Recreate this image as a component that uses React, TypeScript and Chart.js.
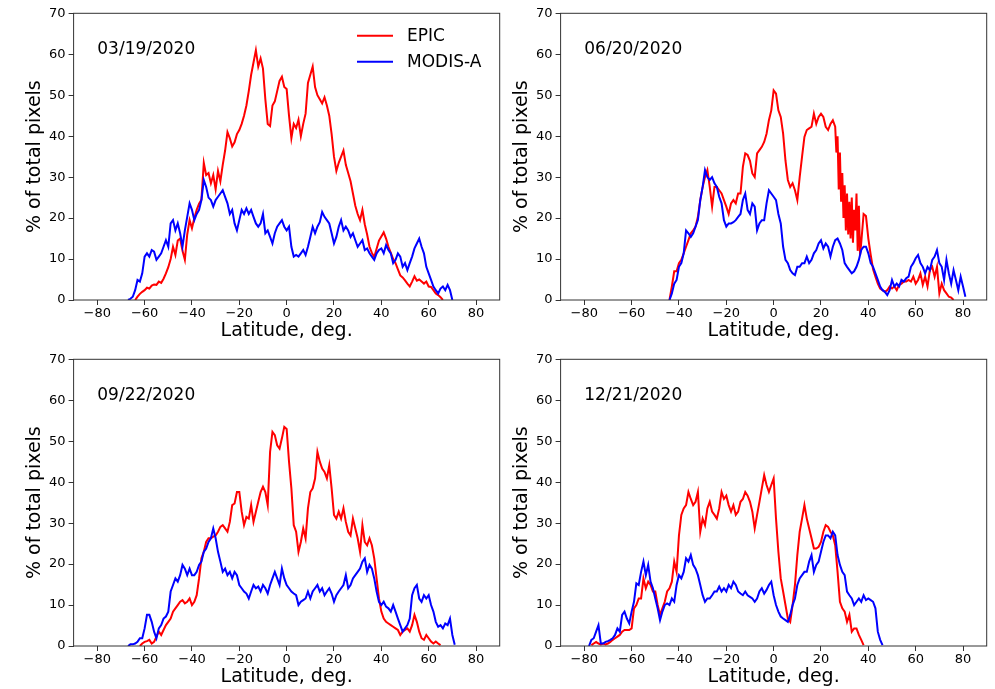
import React, { useEffect, useRef } from "react";
import { Chart, registerables } from "chart.js";

Chart.register(...registerables);

const X_TICKS = [-80, -60, -40, -20, 0, 20, 40, 60, 80];
const Y_TICKS = [0, 10, 20, 30, 40, 50, 60, 70];
const SERIES_NAMES = ["EPIC", "MODIS-A"];
const DATES = ["03/19/2020", "06/20/2020", "09/22/2020", "12/21/2020"];

// 03/19/2020
const MAR_EPIC_START = -64;
const MAR_EPIC = [0, 0.8, 1.5, 2, 2.4, 3, 2.8, 3.5, 3.8, 3.7, 4.5, 4.2, 5.2, 6.5, 8, 10, 13, 11, 14.5, 15, 12, 9.8, 16, 19.5, 17.5, 20, 22, 23.5, 24.5, 33.5, 30.5, 31, 28.5, 30.5, 27, 31.5, 29, 33, 36.5, 41, 39.5, 37.5, 38.5, 40.5, 41.5, 43, 45, 47.5, 51, 55, 58, 61, 57, 59, 56.5, 49, 43, 42.5, 47.5, 48.5, 51, 53.5, 54.5, 52, 51.5, 45, 39.5, 43, 42, 44, 40, 43, 45.5, 53, 55, 57, 52, 50, 49, 48, 49.5, 47.5, 45, 40.5, 35, 31.5, 33.5, 35, 36.5, 33, 31, 29, 26, 23, 21, 19.5, 22, 18.5, 16, 13, 11.5, 10.5, 12.5, 14.5, 15.5, 16.5, 15, 13, 11.5, 10, 9, 7.5, 6, 5.5, 4.8, 4, 3.3, 4.5, 5.8, 4.7, 5, 4.5, 4, 4.5, 3.3, 3.2, 2.4, 1.6, 1.2, 0.7, 0];
const MAR_MODIS_START = -67;
const MAR_MODIS = [0, 0.3, 0.8, 2.4, 4.9, 4.5, 6.5, 10.6, 11.4, 10.6, 12.2, 11.8, 9.8, 10.6, 11.4, 13, 14.6, 13, 18.7, 19.5, 17, 18.7, 16.3, 13, 17, 20.3, 23.6, 22, 19.5, 21, 22, 24.4, 29.3, 27.6, 25, 24.4, 22.8, 24.4, 25.2, 26, 26.8, 25.2, 23.6, 21, 22, 18.7, 17, 19.5, 22, 21, 22.4, 21, 22, 20.3, 18.7, 17.9, 18.7, 21, 16.3, 17, 15.4, 13.8, 16.3, 17.9, 18.7, 19.5, 17.9, 17, 17.9, 13, 10.6, 11, 10.6, 11.4, 12.2, 11, 13, 15.4, 17.9, 16.3, 17.9, 19, 21.5, 20.3, 19.5, 18.7, 16.3, 13.8, 15.4, 17.9, 19.5, 17, 17.9, 17, 15.4, 16.3, 14.6, 13, 13.8, 14.6, 12.2, 12.6, 11.4, 10.6, 9.8, 11.4, 12.2, 12.6, 11.4, 13.4, 12.2, 11.4, 9, 9.8, 11.4, 10.6, 8.1, 9, 7.3, 9, 10.6, 12.6, 13.8, 15, 13, 11.4, 8.1, 6.5, 4.9, 3.3, 2.4, 1.6, 2.8, 3.3, 2.4, 3.7, 2.4, 0];

// 06/20/2020
const JUN_EPIC_START = -44;
const JUN_EPIC = [0, 3.3, 7, 7, 9, 9.8, 11.4, 13, 14.6, 16.3, 17, 17.9, 20.3, 24.4, 27.6, 30, 31.7, 27.6, 22.8, 27.6, 27.6, 26.8, 26, 24.4, 22.8, 21, 23.6, 24.4, 23.6, 26, 26, 32.5, 35.8, 35.4, 34, 30.9, 30, 35.8, 36.6, 37.4, 38.6, 40.6, 43.9, 46.3, 51.2, 50.4, 46.3, 44.7, 40.6, 34, 29.3, 27.6, 28.5, 26.8, 24.4, 30, 35, 39.8, 41.5, 41.9, 42.3, 45.5, 43, 44.7, 45.5, 44.7, 42.3, 41.5, 43, 43.9, 42.3, 40, 36, 31, 28, 26, 24, 25, 22, 26, 23, 14, 21, 20.5, 15, 11, 7.5, 5.7, 4, 2.8, 2.4, 2, 2.4, 3.3, 2.8, 3.3, 2.4, 3.7, 4, 4.5, 4.5, 4.9, 4.5, 5.7, 4, 4.9, 6.5, 3.7, 5.7, 3.3, 7.3, 8.1, 5.7, 8.1, 1.6, 4, 2.4, 1.6, 0.8, 0.6, 0];
// lower envelope of the dense noisy band, at half-degree latitudes 26.5 ... 36.5
const JUN_EPIC_BAND_START = 26.5;
const JUN_EPIC_BAND = [36, 27, 24, 20, 17, 16, 15, 14, 17, 12, 11];
const JUN_MODIS_START = -44;
const JUN_MODIS = [0, 1.6, 4, 4.9, 8.1, 9, 11.4, 17, 16.3, 15.4, 16.3, 17.9, 19.5, 24.4, 27.6, 31.7, 30, 29.3, 30, 28.5, 27.6, 25.2, 23.6, 19.5, 17.9, 18.7, 18.7, 19, 19.5, 20.3, 21, 24.4, 26, 22, 21, 23.6, 22.8, 17, 18.7, 19.5, 19.5, 23.6, 26.8, 26, 25.2, 24.4, 21, 18.7, 13, 9.8, 9, 7.3, 6.5, 6.1, 8.1, 8.1, 9, 9, 10.6, 9, 9.8, 11.4, 12.2, 13.8, 14.6, 12.6, 13.8, 13, 10.6, 13, 14.6, 15, 13.8, 12.2, 9, 8.1, 7.3, 6.5, 7, 8.1, 9.8, 12.2, 13, 13, 11.4, 9, 8.1, 6.5, 4.9, 3.3, 2.4, 2, 1.2, 2.4, 4.9, 3.3, 4, 3.3, 4.9, 4.5, 5.3, 5.7, 8.1, 9, 10.2, 11, 9, 8.1, 6.5, 8.1, 7.3, 9.8, 10.6, 12.2, 9, 8.1, 4.9, 9.8, 6.5, 4, 7.3, 4.9, 2.4, 5.7, 3.3, 0.8];

// 09/22/2020
const SEP_EPIC_START = -62;
const SEP_EPIC = [0, 0.6, 1, 1.2, 1.5, 0.6, 1, 2.3, 3.5, 2.7, 3.9, 5.1, 5.9, 6.7, 8.4, 9.2, 10, 10.8, 11.2, 10.4, 10.8, 11.6, 10, 10.8, 12.4, 16.5, 21.4, 23, 25.4, 26.3, 26.3, 26.7, 27, 27.9, 29.1, 29.5, 28.7, 27.9, 30.3, 34.4, 34.8, 37.6, 37.6, 32.8, 29.5, 31.5, 31.1, 34.4, 30.3, 32.8, 35.2, 37.6, 38.9, 37.6, 34.4, 47.4, 52.3, 51.5, 49, 48.2, 50.7, 53.5, 53, 45, 38.5, 29.5, 27.9, 23, 25.4, 28.7, 26.3, 33.6, 37.6, 38.5, 40.9, 47.4, 45, 43.3, 42.5, 40.9, 44.1, 38.5, 32, 31.1, 32.8, 31.1, 33.6, 30.3, 27.9, 27, 31.1, 28.7, 26.3, 23, 29.5, 25.4, 24.6, 26.3, 24.6, 21.4, 16.5, 11.6, 8.4, 6.7, 5.9, 5.5, 5.1, 4.7, 4.3, 3.9, 2.7, 3.5, 3.9, 4.3, 3.5, 5.1, 7.6, 5.9, 3.5, 1.9, 1.5, 2.7, 1.9, 1.1, 0.6, 1.1, 0.6, 0.2];
const SEP_MODIS_START = -67;
const SEP_MODIS = [0, 0.4, 0.4, 0.6, 1, 1.9, 1.9, 4.3, 7.6, 7.6, 5.9, 3.5, 1.9, 4.3, 5.1, 6.7, 7.2, 8.4, 13.3, 14.9, 16.5, 15.7, 17.3, 19.8, 18.9, 17.3, 18.9, 17.3, 17.3, 18.1, 19.8, 20.6, 23, 23.8, 25.4, 26.3, 28.7, 26.3, 23, 20.6, 18.1, 18.9, 17.3, 18.1, 16.5, 18.1, 17.3, 14.9, 14.1, 13.3, 12.8, 11.6, 13.3, 14.9, 14.1, 14.5, 13.3, 14.9, 14.1, 12.8, 14.9, 16.5, 18.1, 16.5, 14.9, 18.9, 16.5, 14.9, 14.1, 13.3, 12.8, 12.4, 10, 10.8, 11.2, 11.6, 13.3, 11.6, 13.3, 14.1, 14.9, 13.3, 14.1, 12.4, 13.3, 14.1, 12.8, 10.8, 12.4, 13.3, 14.1, 14.9, 17.3, 14.1, 14.9, 16.5, 17.3, 18.1, 18.9, 20.6, 21.4, 18.1, 19.8, 18.9, 16.5, 13.3, 10.8, 10, 10.8, 9.6, 9.2, 8.4, 10, 8.4, 6.7, 5.1, 3.5, 4.3, 5.1, 6.7, 12.4, 14.1, 14.9, 11.6, 10.8, 12.4, 11.6, 12.4, 10, 8.4, 5.9, 4.7, 5.1, 4.3, 5.5, 5.1, 6.7, 2.7, 0.3];

// 12/21/2020
const DEC_EPIC_START = -77;
const DEC_EPIC = [0.2, 0.6, 1, 0.6, 0.4, 0.6, 0.4, 0.6, 1, 1.5, 1.9, 2.3, 2.7, 3.5, 3.9, 3.9, 3.9, 4.3, 9.2, 10, 11.6, 11.6, 16.5, 14.1, 15.7, 14.9, 13.3, 13.3, 10, 7.6, 9.2, 10.8, 13.3, 14.1, 15.7, 20.6, 18.1, 27, 32, 33.6, 34.4, 37.6, 35.9, 34.4, 35.2, 37.6, 27.9, 31.1, 29.5, 33.6, 35.2, 32.8, 32, 31.1, 33.6, 37.6, 35.9, 36.7, 34.4, 32.8, 34.4, 32, 32.8, 35.2, 35.9, 37.6, 36.7, 35.2, 32.8, 28.7, 32, 35.2, 38.5, 41.7, 39.3, 37.6, 39.3, 40.9, 31.1, 23, 16.5, 13.3, 10, 6.7, 5.9, 10, 14.9, 22.2, 27.9, 31.1, 34.4, 31.1, 28.7, 26.3, 23.8, 23.8, 24.2, 25.4, 27.9, 29.5, 29.1, 27.9, 27, 24.6, 18.1, 10.8, 9.2, 8.4, 5.9, 7.6, 3.5, 4.3, 4.3, 2.7, 1.5, 0.2];
const DEC_MODIS_START = -78;
const DEC_MODIS = [0, 1.5, 1.9, 3.5, 5.1, 0.6, 0.6, 1, 1.2, 1.5, 1.9, 2.7, 4.3, 3.5, 7.6, 8.4, 6.7, 5.5, 8.4, 10.8, 15.3, 14.9, 18.1, 20.6, 17.3, 19.8, 15.7, 14.1, 11.6, 9.2, 6.3, 8.4, 10, 10.4, 10, 11.6, 10.8, 14.9, 17.3, 16.5, 18.1, 21.4, 20.6, 22.2, 19.8, 18.9, 17.3, 14.9, 12.4, 10.8, 11.6, 11.6, 12.4, 13.3, 13.3, 14.5, 13.3, 14.1, 13.3, 14.9, 14.1, 15.7, 14.9, 13.3, 12.8, 12.4, 13.3, 12.4, 12, 11.6, 10.8, 11.6, 13.3, 14.1, 12.8, 13.7, 14.9, 15.7, 12.4, 10, 8.4, 7.2, 6.7, 6.3, 5.9, 7.6, 10, 11.6, 14.9, 16.5, 17.3, 18.1, 18.1, 20.6, 22.2, 18.1, 19.8, 20.6, 23, 25.4, 27, 27, 26.3, 27.9, 27, 22.2, 19.8, 18.1, 17.3, 13.3, 12.4, 11.6, 10, 10.8, 11.6, 10.8, 12.4, 11.2, 11.6, 11.2, 10.8, 9.2, 3.5, 1.5, 0.2];

const toXY = (start: number, vals: number[], step = 1) => vals.map((v, i) => ({ x: start + i * step, y: v }));
const mergeXY = (a: { x: number; y: number }[], b: { x: number; y: number }[]) => [...a, ...b].sort((p, q) => p.x - q.x);

const PANELS = [
  { date: DATES[0], epic: toXY(MAR_EPIC_START, MAR_EPIC), modis: toXY(MAR_MODIS_START, MAR_MODIS), left: 0, top: 0, legend: true },
  { date: DATES[1], epic: mergeXY(toXY(JUN_EPIC_START, JUN_EPIC), toXY(JUN_EPIC_BAND_START, JUN_EPIC_BAND)), modis: toXY(JUN_MODIS_START, JUN_MODIS), left: 487, top: 0, legend: false },
  { date: DATES[2], epic: toXY(SEP_EPIC_START, SEP_EPIC), modis: toXY(SEP_MODIS_START, SEP_MODIS), left: 0, top: 346, legend: false },
  { date: DATES[3], epic: toXY(DEC_EPIC_START, DEC_EPIC), modis: toXY(DEC_MODIS_START, DEC_MODIS), left: 487, top: 346, legend: false },
];

const FONT = '"DejaVu Sans", Verdana, sans-serif';
const RED = "#ff0000";
const BLUE = "#0000ff";
const CW = 508;
const CH = 343;

const fmt = (v: number) => (v < 0 ? "\u2212" + Math.abs(v) : String(v));

function Panel({ p }: { p: (typeof PANELS)[number] }) {
  const ref = useRef<HTMLCanvasElement | null>(null);
  useEffect(() => {
    if (!ref.current) return;
    const deco = {
      id: "deco",
      afterDraw(chart: any) {
        const { ctx, chartArea: a, scales } = chart;
        ctx.save();
        ctx.strokeStyle = "#333";
        ctx.lineWidth = 1;
        ctx.strokeRect(a.left, a.top, a.right - a.left, a.bottom - a.top);
        ctx.fillStyle = "#000";
        ctx.font = `17px ${FONT}`;
        ctx.textAlign = "left";
        ctx.textBaseline = "alphabetic";
        ctx.fillText(p.date, scales.x.getPixelForValue(-80), scales.y.getPixelForValue(60));
        if (p.legend) {
          const rows = [
            { name: SERIES_NAMES[0], color: RED, y: 35.7 },
            { name: SERIES_NAMES[1], color: BLUE, y: 61.7 },
          ];
          ctx.textBaseline = "middle";
          for (const r of rows) {
            ctx.strokeStyle = r.color;
            ctx.lineWidth = 2;
            ctx.beginPath();
            ctx.moveTo(357, r.y);
            ctx.lineTo(393, r.y);
            ctx.stroke();
            ctx.fillText(r.name, 407, r.y + 1);
          }
        }
        ctx.restore();
      },
    };
    const tickFont = { family: FONT, size: 13 };
    const titleFont = { family: FONT, size: 19, lineHeight: 1.2 };
    const chart = new Chart(ref.current, {
      type: "line",
      data: {
        datasets: [
          { label: SERIES_NAMES[1], data: p.modis, borderColor: BLUE, borderWidth: 2, pointRadius: 0, tension: 0, fill: false, order: 0 },
          { label: SERIES_NAMES[0], data: p.epic, borderColor: RED, borderWidth: 2, pointRadius: 0, tension: 0, fill: false, order: 1 },
        ],
      },
      options: {
        animation: false,
        responsive: false,
        maintainAspectRatio: false,
        layout: { padding: { top: 13.3, right: 8.3, left: 0, bottom: 0 } },
        plugins: { legend: { display: false }, tooltip: { enabled: false } },
        scales: {
          x: {
            type: "linear",
            min: -90,
            max: 90,
            afterBuildTicks: (s: any) => {
              s.ticks = X_TICKS.map((v) => ({ value: v }));
            },
            afterFit: (s: any) => {
              s.height = 43;
            },
            ticks: { callback: (v: any) => fmt(Number(v)), font: tickFont, color: "#000", padding: 1, maxRotation: 0, autoSkip: false },
            grid: { drawOnChartArea: false, drawTicks: true, tickLength: 5, color: "#333" },
            border: { display: false },
            title: { display: true, text: "Latitude, deg.", font: titleFont, color: "#000", padding: { top: 0, bottom: 0.6 } },
          },
          y: {
            type: "linear",
            min: 0,
            max: 70,
            afterBuildTicks: (s: any) => {
              s.ticks = Y_TICKS.map((v) => ({ value: v }));
            },
            afterFit: (s: any) => {
              s.width = 73.6;
            },
            ticks: { callback: (v: any) => fmt(Number(v)), font: tickFont, color: "#000", padding: 3, autoSkip: false },
            grid: { drawOnChartArea: false, drawTicks: true, tickLength: 5, color: "#333" },
            border: { display: false },
            title: { display: true, text: "% of total pixels", font: titleFont, color: "#000", padding: { top: 23.6, bottom: 0 } },
          },
        },
      },
      plugins: [deco],
    } as any);
    return () => chart.destroy();
  }, [p]);
  return (
    <canvas
      ref={ref}
      width={CW}
      height={CH}
      style={{ position: "absolute", left: p.left, top: p.top, width: CW, height: CH }}
    />
  );
}

export default function App() {
  return (
    <div style={{ position: "fixed", left: 0, top: 0, width: 995, height: 689, background: "#fff", overflow: "hidden" }}>
      {PANELS.map((p) => (
        <Panel key={p.date} p={p} />
      ))}
    </div>
  );
}
